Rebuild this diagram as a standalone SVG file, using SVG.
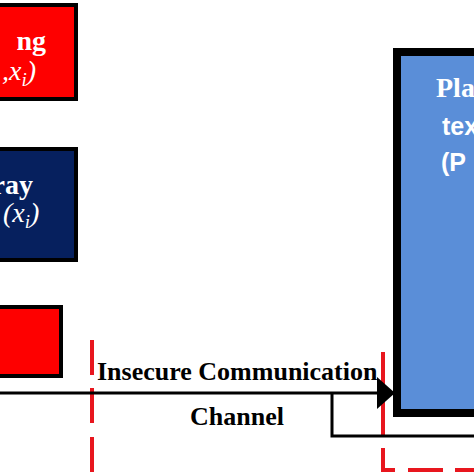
<svg xmlns="http://www.w3.org/2000/svg" width="474" height="474" viewBox="0 0 474 474">
<defs>
<marker id="arr" markerUnits="userSpaceOnUse" markerWidth="20" markerHeight="32" refX="18" refY="16" orient="auto">
<path d="M0,0 L18,16 L0,32 Z" fill="#000"/>
</marker>
<style>
.box{stroke:#000;stroke-width:4}
.w{fill:#fff;font-family:"Liberation Serif",serif;font-weight:bold;font-size:28px}
.ws{fill:#fff;font-family:"Liberation Sans",sans-serif;font-weight:bold;font-size:25px}
.m{fill:#fff;font-family:"Liberation Serif",serif;font-style:italic;font-size:28px}
.lbl{fill:#000;font-family:"Liberation Serif",serif;font-weight:bold;font-size:26px}
.dash{stroke:#e8161e;stroke-width:4;fill:none}
.line{stroke:#000;stroke-width:3;fill:none}
</style>
</defs>
<rect width="474" height="474" fill="#fff"/>
<g id="node-red-top">
<rect class="box" x="-10" y="5" width="86" height="94" fill="#fe0000"/>
<text class="w" x="46" y="50" text-anchor="end" font-size="30">ng</text>
<text class="m" x="2" y="80">,x<tspan font-size="19" dy="6">i</tspan><tspan dy="-6">)</tspan></text>
</g>
<g id="node-navy">
<rect class="box" x="-10" y="149" width="86" height="111" fill="#06205e"/>
<text class="w" x="33" y="194" text-anchor="end">ray</text>
<text class="m" x="3" y="222">(x<tspan font-size="19" dy="6">i</tspan><tspan dy="-6">)</tspan></text>
</g>
<g id="node-red-bottom">
<rect class="box" x="-10" y="307" width="71" height="69" fill="#fe0000"/>
</g>
<g id="node-plaintext">
<rect x="397" y="52" width="100" height="361" fill="#5a8ed8" stroke="#000" stroke-width="8"/>
<text class="w" x="436" y="97">Pla</text>
<text class="ws" x="442" y="135">tex</text>
<text class="ws" x="441" y="171">(P</text>
</g>
<g id="boundaries">
<path class="dash" d="M92,340 V375 M92,388 V423 M92,437 V472"/>
<path class="dash" d="M383,352 V435 M383,448 V470 H395 M408,470 H443 M455,470 H474"/>
</g>
<g id="connectors">
<path class="line" d="M0,393 H395" marker-end="url(#arr)"/>
<path class="line" d="M332,393 V436 H474"/>
</g>
<g id="labels">
<text class="lbl" x="97" y="380">Insecure Communication</text>
<text class="lbl" x="237" y="425" text-anchor="middle">Channel</text>
</g>
</svg>
